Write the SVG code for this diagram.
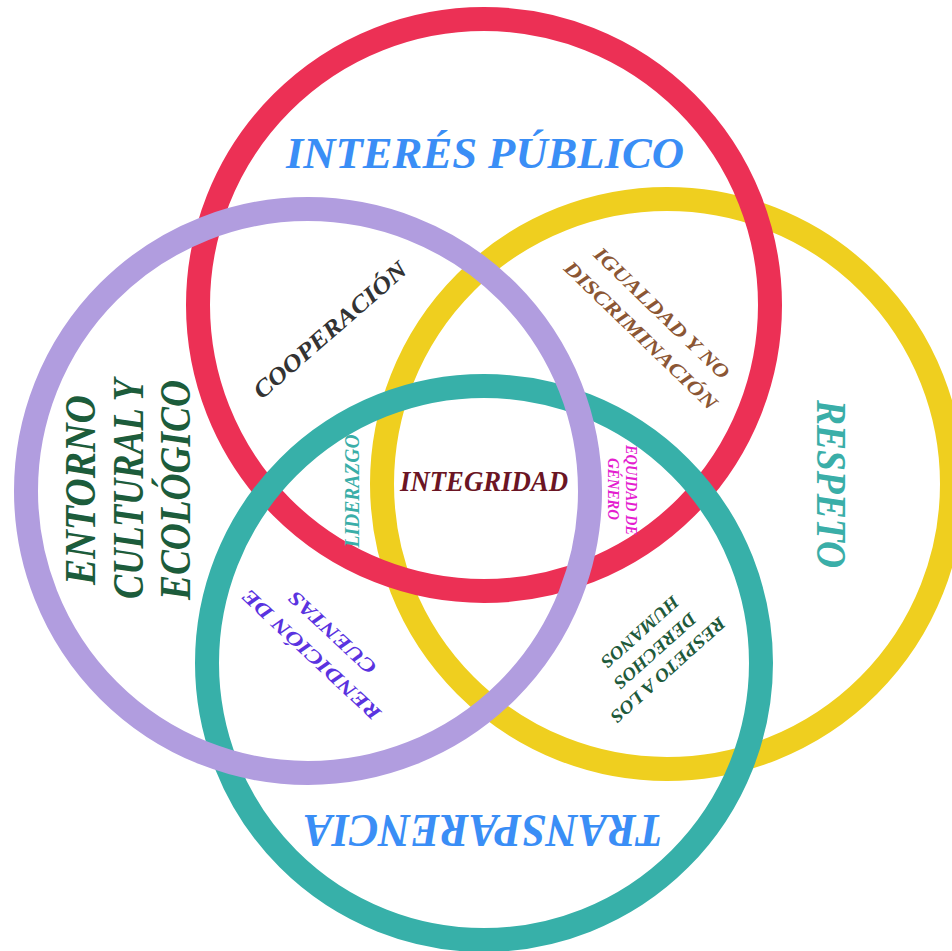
<svg xmlns="http://www.w3.org/2000/svg" width="952" height="951" viewBox="0 0 952 951">
<style>
.ring{fill:none;stroke-width:24}
.t{font-family:"Liberation Serif","DejaVu Serif",serif;font-weight:bold;font-style:italic;text-anchor:middle}
</style>
<rect width="952" height="951" fill="#ffffff"/>
<g id="circles">
<g id="respeto-circle"><circle class="ring" cx="667" cy="484" r="285" stroke="#efcf1f"/></g>
<g id="interes-circle"><circle class="ring" cx="484" cy="305" r="286" stroke="#ec3055"/></g>
<g id="transparencia-circle"><circle class="ring" cx="484" cy="663" r="277" stroke="#37b0a9"/></g>
<g id="entorno-circle"><circle class="ring" cx="308" cy="491" r="282" stroke="#b19ddf"/></g>
</g>
<g id="labels">
<g id="interes"><text class="t" x="485" y="168" font-size="44" textLength="398" lengthAdjust="spacingAndGlyphs" fill="#3a8ef6">INTERÉS PÚBLICO</text></g>
<g id="entorno" fill="#1c5c3b">
<text class="t" transform="translate(95,490) rotate(-90)" font-size="44" textLength="190" lengthAdjust="spacingAndGlyphs">ENTORNO</text>
<text class="t" transform="translate(143,489) rotate(-90)" font-size="44" textLength="220" lengthAdjust="spacingAndGlyphs">CULTURAL Y</text>
<text class="t" transform="translate(190,490) rotate(-90)" font-size="44" textLength="220" lengthAdjust="spacingAndGlyphs">ECOLÓGICO</text>
</g>
<g id="cooperacion"><text class="t" transform="translate(330,330) rotate(-41)" y="8" font-size="24" textLength="195" lengthAdjust="spacingAndGlyphs" fill="#333333">COOPERACIÓN</text></g>
<g id="igualdad" fill="#8b5634">
<text class="t" transform="translate(662,313) rotate(44)" y="7" font-size="20" textLength="180" lengthAdjust="spacingAndGlyphs">IGUALDAD Y NO</text>
<text class="t" transform="translate(641,335) rotate(44)" y="7" font-size="20" textLength="204" lengthAdjust="spacingAndGlyphs">DISCRIMINACIÓN</text>
</g>
<g id="respeto"><text class="t" transform="translate(831,484) rotate(90)" y="14" font-size="42" textLength="168" lengthAdjust="spacingAndGlyphs" fill="#3aaea8">RESPETO</text></g>
<g id="integridad"><text class="t" x="484" y="491" font-size="30" textLength="168" lengthAdjust="spacingAndGlyphs" fill="#6b1524">INTEGRIDAD</text></g>
<g id="liderazgo"><text class="t" transform="translate(352,491) rotate(-90)" y="7" font-size="22" textLength="113" lengthAdjust="spacingAndGlyphs" fill="#3aaea8">LIDERAZGO</text></g>
<g id="equidad" fill="#e41ecf">
<text class="t" transform="translate(632,490) rotate(90)" y="6" font-size="17" textLength="90" lengthAdjust="spacingAndGlyphs">EQUIDAD DE</text>
<text class="t" transform="translate(614,489) rotate(90)" y="6" font-size="17" textLength="62" lengthAdjust="spacingAndGlyphs">GÉNERO</text>
</g>
<g id="rendicion" fill="#5a33e0">
<text class="t" transform="translate(311,655) rotate(223)" y="7" font-size="20" textLength="182" lengthAdjust="spacingAndGlyphs">RENDICIÓN DE</text>
<text class="t" transform="translate(332,633) rotate(223)" y="7" font-size="20" textLength="112" lengthAdjust="spacingAndGlyphs">CUENTAS</text>
</g>
<g id="derechos" fill="#1e5a3b">
<text class="t" transform="translate(668,670) rotate(138)" y="6" font-size="18" textLength="148" lengthAdjust="spacingAndGlyphs">RESPETO A LOS</text>
<text class="t" transform="translate(655,651) rotate(138)" y="6" font-size="18" textLength="104" lengthAdjust="spacingAndGlyphs">DERECHOS</text>
<text class="t" transform="translate(640,632) rotate(138)" y="6" font-size="18" textLength="98" lengthAdjust="spacingAndGlyphs">HUMANOS</text>
</g>
<g id="transparencia"><text class="t" transform="translate(483,830) rotate(180)" y="15" font-size="46" textLength="360" lengthAdjust="spacingAndGlyphs" fill="#3a8ef6">TRANSPARENCIA</text></g>
</g>
</svg>
